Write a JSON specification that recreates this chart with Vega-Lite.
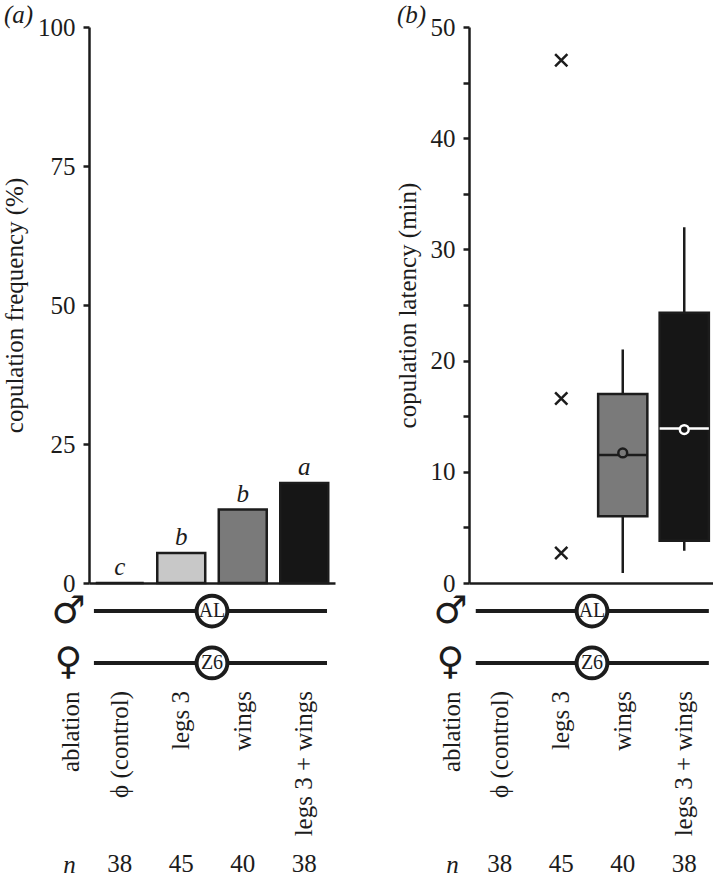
{
  "$schema": "https://vega.github.io/schema/vega-lite/v6.json",
  "background": "white",
  "padding": {"left": 2, "top": 3, "right": 0, "bottom": 0},
  "datasets": {
    "treatments": [
      {"treatment": "ϕ (control)", "n": 38, "freq": 0, "letter": "c"},
      {"treatment": "legs 3", "n": 45, "freq": 5.4, "letter": "b"},
      {"treatment": "wings", "n": 40, "freq": 13.2, "letter": "b"},
      {"treatment": "legs 3 + wings", "n": 38, "freq": 18.0, "letter": "a"}
    ],
    "latency": [
      {"treatment": "wings", "lower": 0.9, "q1": 6.0, "median": 11.5, "q3": 17.0, "upper": 21.0, "mean": 11.7},
      {"treatment": "legs 3 + wings", "lower": 2.9, "q1": 3.8, "median": 13.9, "q3": 24.3, "upper": 32.0, "mean": 13.8}
    ],
    "outliers": [
      {"treatment": "legs 3", "latency": 47.0},
      {"treatment": "legs 3", "latency": 16.6},
      {"treatment": "legs 3", "latency": 2.7}
    ],
    "sexes": [
      {"sex": "male", "strain": "AL"},
      {"sex": "female", "strain": "Z6"}
    ]
  },
  "columns": 2,
  "spacing": {"row": 0, "column": 134},
  "bounds": "flush",
  "concat": [
    {
      "width": 246, "height": 556,
      "title": {"text": "(a)", "dx": -85, "dy": 17},
      "data": {"name": "treatments"},
      "encoding": {
        "x": {"field": "treatment", "type": "nominal",
          "scale": {"domain": ["ϕ (control)", "legs 3", "wings", "legs 3 + wings"], "paddingInner": 0.22, "paddingOuter": 0.11},
          "axis": {"labels": false, "ticks": false, "title": null}}
      },
      "layer": [
        {
          "mark": {"type": "bar", "stroke": "#1c1c1c", "strokeWidth": 2.5},
          "encoding": {
            "y": {"field": "freq", "type": "quantitative", "title": "copulation frequency (%)",
              "scale": {"domain": [0, 100]}, "axis": {"values": [0, 25, 50, 75, 100]}},
            "fill": {"field": "treatment", "type": "nominal",
              "scale": {"domain": ["ϕ (control)", "legs 3", "wings", "legs 3 + wings"], "range": ["#ffffff", "#c8c8c8", "#7a7a7a", "#161616"]},
              "legend": null}
          }
        },
        {
          "mark": {"type": "text", "fontStyle": "italic", "fontSize": 25, "baseline": "alphabetic", "dy": -8},
          "encoding": {
            "y": {"field": "freq", "type": "quantitative", "title": "copulation frequency (%)"},
            "text": {"field": "letter"}
          }
        }
      ]
    },
    {
      "width": 246, "height": 556,
      "title": {"text": "(b)", "dx": -72, "dy": 17},
      "encoding": {
        "x": {"field": "treatment", "type": "nominal",
          "scale": {"domain": ["ϕ (control)", "legs 3", "wings", "legs 3 + wings"], "paddingInner": 0.2, "paddingOuter": 0.1},
          "axis": {"labels": false, "ticks": false, "title": null}}
      },
      "layer": [
        {
          "data": {"name": "latency"},
          "mark": {"type": "rule", "strokeWidth": 2.5, "color": "#1c1c1c"},
          "encoding": {
            "y": {"field": "lower", "type": "quantitative", "title": "copulation latency (min)",
              "scale": {"domain": [0, 50]},
              "axis": {"values": [0, 5, 10, 15, 20, 25, 30, 35, 40, 45, 50], "labelExpr": "datum.value % 10 === 0 ? datum.label : ''"}},
            "y2": {"field": "upper"}
          }
        },
        {
          "data": {"name": "latency"},
          "mark": {"type": "bar", "stroke": "#1c1c1c", "strokeWidth": 2.5},
          "encoding": {
            "y": {"field": "q1", "type": "quantitative", "title": "copulation latency (min)"},
            "y2": {"field": "q3"},
            "fill": {"field": "treatment", "type": "nominal",
              "scale": {"domain": ["ϕ (control)", "legs 3", "wings", "legs 3 + wings"], "range": ["#ffffff", "#c8c8c8", "#7a7a7a", "#161616"]},
              "legend": null}
          }
        },
        {
          "data": {"name": "latency"},
          "mark": {"type": "bar", "filled": false, "strokeWidth": 2.5},
          "encoding": {
            "y": {"field": "median", "type": "quantitative", "title": "copulation latency (min)"},
            "y2": {"field": "median"},
            "stroke": {"field": "treatment", "type": "nominal",
              "scale": {"domain": ["wings", "legs 3 + wings"], "range": ["#1c1c1c", "#ffffff"]}, "legend": null}
          }
        },
        {
          "data": {"name": "latency"},
          "mark": {"type": "point", "shape": "circle", "filled": true, "size": 78, "strokeWidth": 2.5, "opacity": 1},
          "encoding": {
            "y": {"field": "mean", "type": "quantitative", "title": "copulation latency (min)"},
            "fill": {"field": "treatment", "type": "nominal",
              "scale": {"domain": ["ϕ (control)", "legs 3", "wings", "legs 3 + wings"], "range": ["#ffffff", "#c8c8c8", "#7a7a7a", "#161616"]},
              "legend": null},
            "stroke": {"field": "treatment", "type": "nominal",
              "scale": {"domain": ["wings", "legs 3 + wings"], "range": ["#1c1c1c", "#ffffff"]}, "legend": null}
          }
        },
        {
          "data": {"name": "outliers"},
          "mark": {"type": "point", "shape": "M-1,-1L1,1M-1,1L1,-1", "filled": false, "size": 150, "strokeWidth": 2.5, "color": "#1c1c1c", "opacity": 1},
          "encoding": {
            "y": {"field": "latency", "type": "quantitative", "title": "copulation latency (min)"}
          }
        }
      ]
    },
    {
      "width": 246, "height": 108,
      "data": {"name": "sexes"},
      "encoding": {
        "y": {"field": "sex", "type": "nominal",
          "scale": {"type": "point", "domain": ["male", "female"], "padding": 0.54},
          "axis": {"domain": false, "ticks": false, "title": null, "labelExpr": "datum.value === 'male' ? '♂' : '♀'",
            "labelFont": "DejaVu Sans", "labelFontSize": 38, "labelAlign": "center", "labelBaseline": "middle", "labelPadding": 21}}
      },
      "layer": [
        {"mark": {"type": "rule", "strokeWidth": 4, "color": "#1c1c1c"},
          "encoding": {
            "x": {"datum": "ϕ (control)", "bandPosition": 0.08,
              "scale": {"domain": ["ϕ (control)", "legs 3", "wings", "legs 3 + wings"], "padding": 0}, "axis": null},
            "x2": {"datum": "legs 3 + wings", "bandPosition": 0.87}
          }},
        {"mark": {"type": "point", "shape": "circle", "size": 950, "filled": true, "fill": "#ffffff", "stroke": "#1c1c1c", "strokeWidth": 4, "opacity": 1}, "encoding": {}},
        {"mark": {"type": "text", "fontSize": 20}, "encoding": {"text": {"field": "strain"}}}
      ]
    },
    {
      "width": 246, "height": 108,
      "data": {"name": "sexes"},
      "encoding": {
        "y": {"field": "sex", "type": "nominal",
          "scale": {"type": "point", "domain": ["male", "female"], "padding": 0.54},
          "axis": {"domain": false, "ticks": false, "title": null, "labelExpr": "datum.value === 'male' ? '♂' : '♀'",
            "labelFont": "DejaVu Sans", "labelFontSize": 38, "labelAlign": "center", "labelBaseline": "middle", "labelPadding": 19}}
      },
      "layer": [
        {"mark": {"type": "rule", "strokeWidth": 4, "color": "#1c1c1c"},
          "encoding": {
            "x": {"datum": "ϕ (control)", "bandPosition": 0.11,
              "scale": {"domain": ["ϕ (control)", "legs 3", "wings", "legs 3 + wings"], "padding": 0}, "axis": null},
            "x2": {"datum": "legs 3 + wings", "bandPosition": 0.9}
          }},
        {"mark": {"type": "point", "shape": "circle", "size": 950, "filled": true, "fill": "#ffffff", "stroke": "#1c1c1c", "strokeWidth": 4, "opacity": 1}, "encoding": {}},
        {"mark": {"type": "text", "fontSize": 20}, "encoding": {"text": {"field": "strain"}}}
      ]
    },
    {
      "width": 246, "height": 162,
      "data": {"name": "treatments"},
      "mark": {"type": "text", "angle": 270, "align": "right", "baseline": "middle", "fontSize": 25},
      "encoding": {
        "x": {"field": "treatment", "type": "nominal",
          "scale": {"domain": ["ϕ (control)", "legs 3", "wings", "legs 3 + wings"], "paddingInner": 0.22, "paddingOuter": 0.11}, "axis": null},
        "y": {"datum": "ablation", "type": "nominal", "scale": {"type": "point", "padding": 0, "align": 0},
          "axis": {"domain": false, "ticks": false, "title": null, "labelAngle": 270, "labelAlign": "right", "labelBaseline": "middle", "labelPadding": 19}},
        "text": {"field": "treatment"}
      }
    },
    {
      "width": 246, "height": 162,
      "data": {"name": "treatments"},
      "mark": {"type": "text", "angle": 270, "align": "right", "baseline": "middle", "fontSize": 25},
      "encoding": {
        "x": {"field": "treatment", "type": "nominal",
          "scale": {"domain": ["ϕ (control)", "legs 3", "wings", "legs 3 + wings"], "paddingInner": 0.2, "paddingOuter": 0.1}, "axis": null},
        "y": {"datum": "ablation", "type": "nominal", "scale": {"type": "point", "padding": 0, "align": 0},
          "axis": {"domain": false, "ticks": false, "title": null, "labelAngle": 270, "labelAlign": "right", "labelBaseline": "middle", "labelPadding": 18}},
        "text": {"field": "treatment"}
      }
    },
    {
      "width": 246, "height": 22,
      "data": {"name": "treatments"},
      "mark": {"type": "text", "fontSize": 25, "baseline": "middle"},
      "encoding": {
        "x": {"field": "treatment", "type": "nominal",
          "scale": {"domain": ["ϕ (control)", "legs 3", "wings", "legs 3 + wings"], "paddingInner": 0.22, "paddingOuter": 0.11}, "axis": null},
        "y": {"datum": "n", "type": "nominal",
          "axis": {"domain": false, "ticks": false, "title": null, "labelFontStyle": "italic", "labelAlign": "center", "labelBaseline": "middle", "labelPadding": 20}},
        "text": {"field": "n"}
      }
    },
    {
      "width": 246, "height": 22,
      "data": {"name": "treatments"},
      "mark": {"type": "text", "fontSize": 25, "baseline": "middle"},
      "encoding": {
        "x": {"field": "treatment", "type": "nominal",
          "scale": {"domain": ["ϕ (control)", "legs 3", "wings", "legs 3 + wings"], "paddingInner": 0.2, "paddingOuter": 0.1}, "axis": null},
        "y": {"datum": "n", "type": "nominal",
          "axis": {"domain": false, "ticks": false, "title": null, "labelFontStyle": "italic", "labelAlign": "center", "labelBaseline": "middle", "labelPadding": 17}},
        "text": {"field": "n"}
      }
    }
  ],
  "config": {
    "view": {"stroke": null},
    "font": "Liberation Serif",
    "axis": {"domainColor": "#1c1c1c", "domainWidth": 2.5, "tickColor": "#1c1c1c", "tickWidth": 2.5, "tickSize": 6,
      "labelFont": "Liberation Serif", "labelFontSize": 25, "labelColor": "#1c1c1c",
      "titleFont": "Liberation Serif", "titleFontSize": 25, "titleFontWeight": "normal", "titleColor": "#1c1c1c",
      "labelPadding": 8, "titlePadding": 10, "grid": false},
    "title": {"font": "Liberation Serif", "fontSize": 25, "fontWeight": "normal", "fontStyle": "italic", "anchor": "start", "frame": "group", "color": "#1c1c1c", "offset": 4},
    "text": {"font": "Liberation Serif", "color": "#1c1c1c"}
  }
}
